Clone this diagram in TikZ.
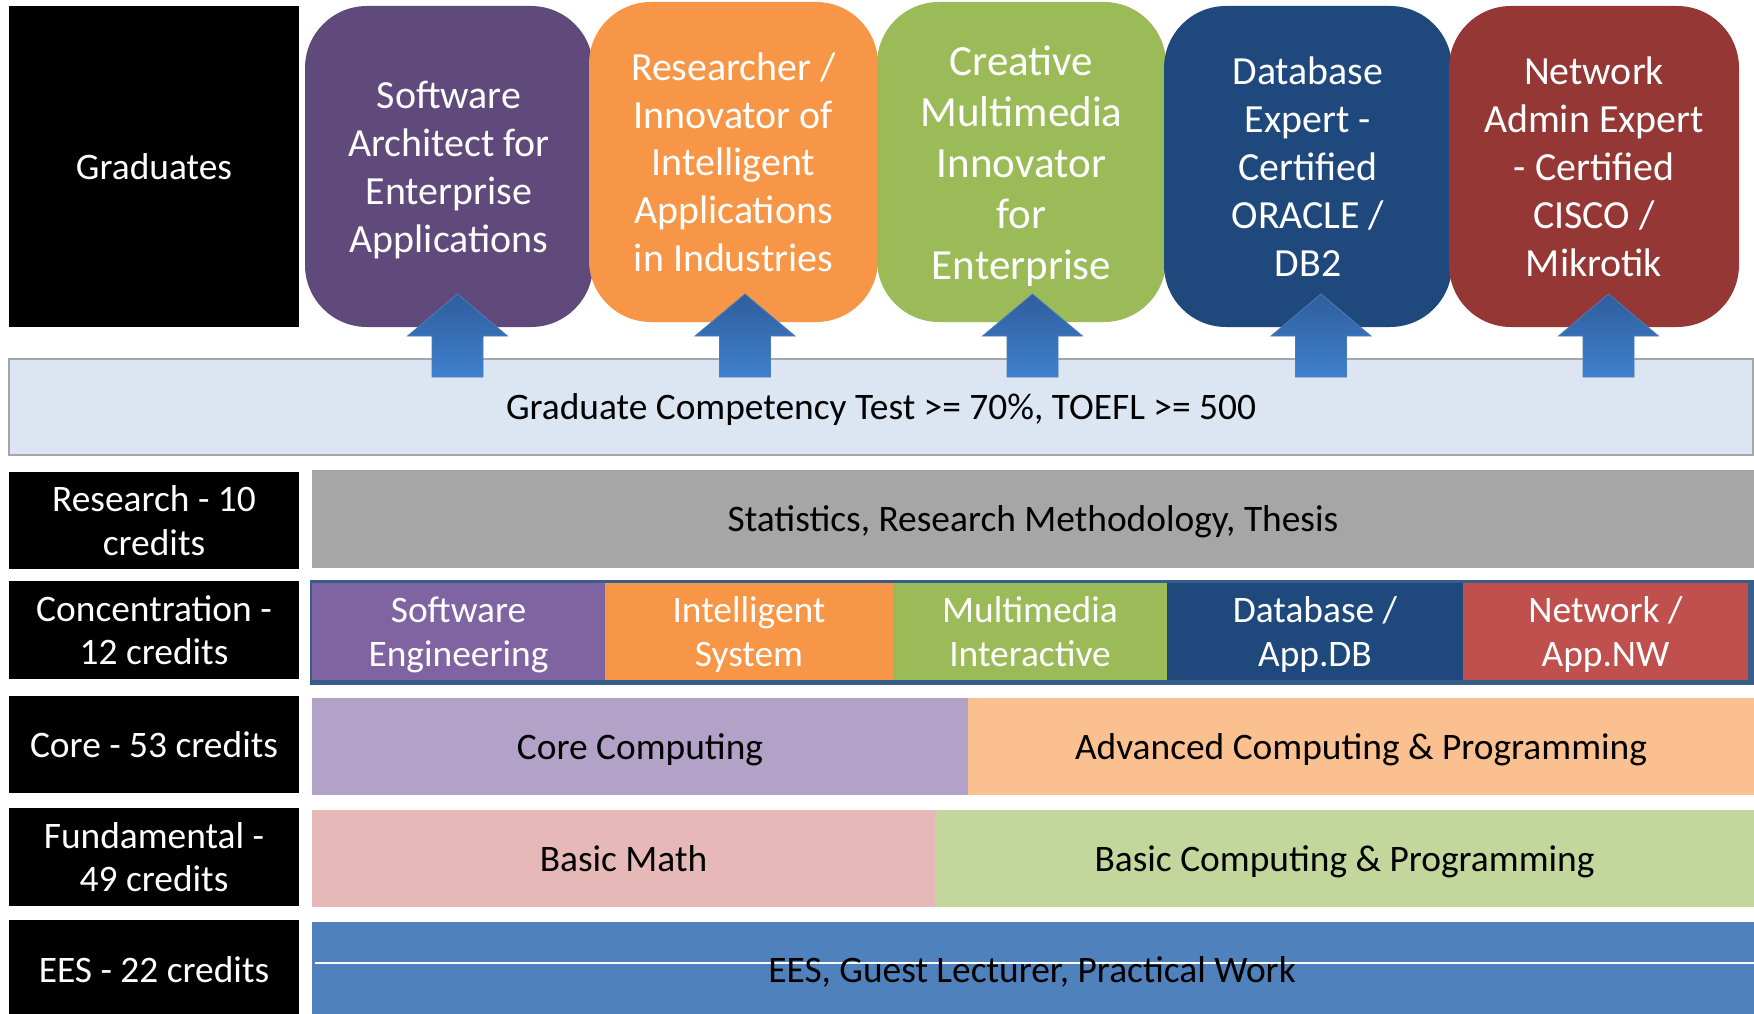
\documentclass[tikz,border=0pt]{standalone}
\usepackage{fontspec}
\setmainfont{Carlito}
\definecolor{tpurple}{HTML}{604A7B}
\definecolor{torange}{HTML}{F79646}
\definecolor{tgreen}{HTML}{9BBB59}
\definecolor{tblue}{HTML}{1F497D}
\definecolor{tred}{HTML}{953735}
\definecolor{cpurple}{HTML}{8064A2}
\definecolor{corange}{HTML}{F79646}
\definecolor{cgreen}{HTML}{9BBB59}
\definecolor{cblue}{HTML}{1F497D}
\definecolor{cred}{HTML}{C0504D}
\definecolor{cborder}{HTML}{385D8A}
\definecolor{corecol}{HTML}{B3A2C7}
\definecolor{advcol}{HTML}{FAC090}
\definecolor{mathcol}{HTML}{E6B9B8}
\definecolor{basiccol}{HTML}{C3D69B}
\definecolor{eescol}{HTML}{4F81BD}
\definecolor{gctfill}{HTML}{DCE6F2}
\definecolor{gctborder}{HTML}{A6A6A6}
\definecolor{rescol}{HTML}{A6A6A6}
\definecolor{arrtop}{HTML}{2F5E9C}
\definecolor{arrbot}{HTML}{3F80CE}
\definecolor{arredge}{HTML}{4A7EBB}
\newcommand\rowfont{\fontsize{37.4}{43.8}\selectfont}
\newcommand\topfont{\fontsize{39.9}{47.8}\selectfont}
\newcommand\bigtopfont{\fontsize{43}{51}\selectfont}
\newcommand\st{\rule[-0.16em]{0pt}{1.02em}}
\begin{document}
\begin{tikzpicture}[x=1pt,y=-1pt,
  lbl/.style={fill=black, text=white, font=\rowfont, align=center, inner sep=0pt, minimum width=290pt},
  topbox/.style={rounded corners=62pt, text=white, font=\topfont, align=center, inner sep=0pt},
  band/.style={inner sep=0pt, font=\rowfont, align=center, text=black},
  cseg/.style={inner sep=0pt, font=\rowfont, align=center, text=white, minimum height=97pt},
  blockarrow/.style={top color=arrtop, bottom color=arrbot, draw=arredge, line width=0.8pt}]
\useasboundingbox (0,0) rectangle (1754,1014);
\fill[white] (0,0) rectangle (1754,1014);

% top row
\node[lbl, minimum height=321pt] (grad) at (154,166.5) {\st Graduates};
\node[topbox, fill=tpurple, minimum width=288pt, minimum height=321pt] (ta) at (449,166.5)
  {\st Software\\\st Architect for\\\st Enterprise\\\st Applications};
\node[topbox, fill=torange, minimum width=289pt, minimum height=320pt] (tb) at (733.5,162)
  {\st Researcher /\\\st Innovator of\\\st Intelligent\\\st Applications\\\st in Industries};
\node[topbox, fill=tgreen, font=\bigtopfont, minimum width=289pt, minimum height=320pt] (tc) at (1021.5,162)
  {\st Creative\\\st Multimedia\\\st Innovator\\\st for\\\st Enterprise};
\node[topbox, fill=tblue, minimum width=288pt, minimum height=321pt] (td) at (1308,166.5)
  {\st Database\\\st Expert -\\\st Certified\\\st ORACLE /\\\st DB2};
\node[topbox, fill=tred, minimum width=290pt, minimum height=321pt] (te) at (1594,166.5)
  {\st Network\\\st Admin Expert\\\st - Certified\\\st CISCO /\\\st Mikrotik};

% graduate competency test
\node[band, fill=gctfill, draw=gctborder, line width=2pt, minimum width=1744pt, minimum height=96pt] (gct) at (881,406.5)
  {\st Graduate Competency Test >= 70\%, TOEFL >= 500};

% research
\node[lbl, minimum height=97pt] (lres) at (154,520.5) {\st Research - 10\\\st credits};
\node[band, fill=rescol, minimum width=1442pt, minimum height=98pt] (res) at (1033,518.5)
  {\st Statistics, Research Methodology, Thesis};

% concentration
\node[lbl, minimum height=98pt] (lconc) at (154,630) {\st Concentration -\\\st 12 credits};
\node[fill=cborder, inner sep=0pt, minimum width=1444pt, minimum height=105pt] (conc) at (1032,632.5) {};
\node[cseg, fill=cpurple, minimum width=293pt] (cs1) at (458.5,631.5) {\st Software\\\st Engineering};
\node[cseg, fill=corange, minimum width=288pt] (cs2) at (749,631.5) {\st Intelligent\\\st System};
\node[cseg, fill=cgreen, minimum width=274pt] (cs3) at (1030,631.5) {\st Multimedia\\\st Interactive};
\node[cseg, fill=cblue, minimum width=296pt] (cs4) at (1315,631.5) {\st Database /\\\st App.DB};
\node[cseg, fill=cred, minimum width=285pt] (cs5) at (1605.5,631.5) {\st Network /\\\st App.NW};

% core
\node[lbl, minimum height=97pt] (lcore) at (154,744.5) {\st Core - 53 credits};
\node[band, fill=corecol, minimum width=656pt, minimum height=97pt] (core1) at (640,746.5) {\st Core Computing};
\node[band, fill=advcol, minimum width=786pt, minimum height=97pt] (core2) at (1361,746.5) {\st Advanced Computing \& Programming};

% fundamental
\node[lbl, minimum height=98pt] (lfund) at (154,857) {\st Fundamental -\\\st 49 credits};
\node[band, fill=mathcol, minimum width=623pt, minimum height=97pt] (fund1) at (623.5,858.5) {\st Basic Math};
\node[band, fill=basiccol, minimum width=819pt, minimum height=97pt] (fund2) at (1344.5,858.5) {\st Basic Computing \& Programming};

% EES
\node[lbl, minimum height=94pt] (lees) at (154,967) {};
\node[font=\rowfont, text=white, inner sep=0pt] (leest) at (154,969) {\st EES - 22 credits};
\node[fill=eescol, inner sep=0pt, minimum width=1442pt, minimum height=92pt] (ees) at (1033,968) {};
\draw[white, line width=1.5pt] (315,963) -- (ees.east |- 0,963);
\node[font=\rowfont, text=black, inner sep=0pt] (eest) at (1032,969) {\st EES, Guest Lecturer, Practical Work};

% block arrows
\foreach \n/\cx in {a1/457.5, a2/745, a3/1032.5, a4/1321, a5/1608.5}{
  \coordinate (\n) at (\cx,377);
  \path[blockarrow] (\n) ++(-25.5,0) -- ++(0,-41) -- ++(-24.5,0) -- ++(50,-42) -- ++(50,42) -- ++(-24.5,0) -- ++(0,41) -- cycle;
}
\end{tikzpicture}
\end{document}
